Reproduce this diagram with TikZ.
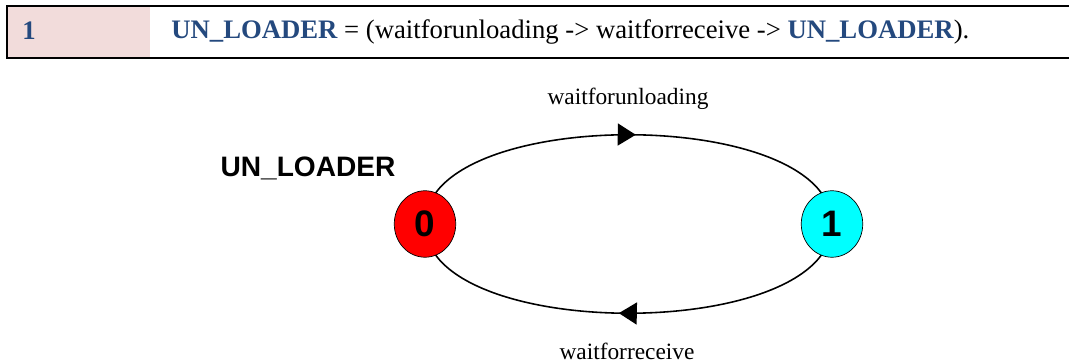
\documentclass[tikz,border=0pt]{standalone}
\usepackage{fontspec}
\setmainfont{Liberation Serif}
\setsansfont{Liberation Sans}
\usepackage{tikz}
\usetikzlibrary{
  arrows.meta, % for the Triangle tips on the transitions
  shapes.geometric, % for the slightly tall state ellipses
  decorations.markings, % to put the tips half way along the arcs
  backgrounds % to keep the arcs behind the states
}
\definecolor{cellpink}{HTML}{F2DCDB}
\definecolor{kwblue}{HTML}{24497E}
\definecolor{statered}{HTML}{FF0000}
\definecolor{statecyan}{HTML}{00FFFF}
\tikzset{
  state/.style={ % style for each state of the LTS
    ellipse,draw,thin, % drawn as a thin outlined ellipse
    inner sep=0pt, % no padding round the number
    minimum width=1.23cm, minimum height=1.33cm, % same size for every state
    font=\sffamily\bfseries\fontsize{21}{21}\selectfont,
  },
  trans/.style={ % style for the transitions
    line width=0.9pt,
    postaction={decorate},
    decoration={markings,
      mark=at position #1 with {\arrow{Triangle[length=0.36cm,width=0.44cm]}}},
  },
  trans/.default=0.5,
  actlabel/.style={ % style for the action names
    anchor=base,inner sep=0pt,
    font=\fontsize{13.3}{14}\selectfont,
  },
  procname/.style={ % style for the process name
    anchor=base,inner sep=0pt,
    font=\sffamily\bfseries\fontsize{16}{16}\selectfont,
  },
  rowtext/.style={ % style for the text in the table row
    anchor=base west,inner sep=0pt,
    font=\fontsize{15.2}{17}\selectfont,
  },
}

\begin{document}
\begin{tikzpicture}[x=0.02cm,y=-0.02cm]
  \useasboundingbox (0,0) rectangle (1069,364);
  % table row
  \fill[cellpink] (8,7) rectangle (150,57);
  \draw[line width=1.2pt] (1069,6) -- (7,6) -- (7,58) -- (1069,58);
  \node[rowtext] (num) at (22,40) {\textbf{\color{kwblue}1}};
  \node[rowtext] (fsp) at (171,39) {\textbf{\color{kwblue}UN\_LOADER} = (waitforunloading -> waitforreceive -> \textbf{\color{kwblue}UN\_LOADER}).};
  % states
  \node[state, fill=statered] (s0) at (425,224) {0};
  \node[state, fill=statecyan] (s1) at (832,224) {1};
  \node[procname] (proc) at (308,177) {UN\_LOADER};
  \begin{pgfonlayer}{background}
    \draw[trans=0.515] (s0.center) .. controls +(0,-119) and +(0,-119) .. (s1.center);
    \draw[trans=0.52] (s1.center) .. controls +(0,119) and +(0,119) .. (s0.center);
  \end{pgfonlayer}
  \node[actlabel] (up) at (628,105) {waitforunloading};
  \node[actlabel] (down) at (627,360) {waitforreceive};
\end{tikzpicture}
\end{document}
